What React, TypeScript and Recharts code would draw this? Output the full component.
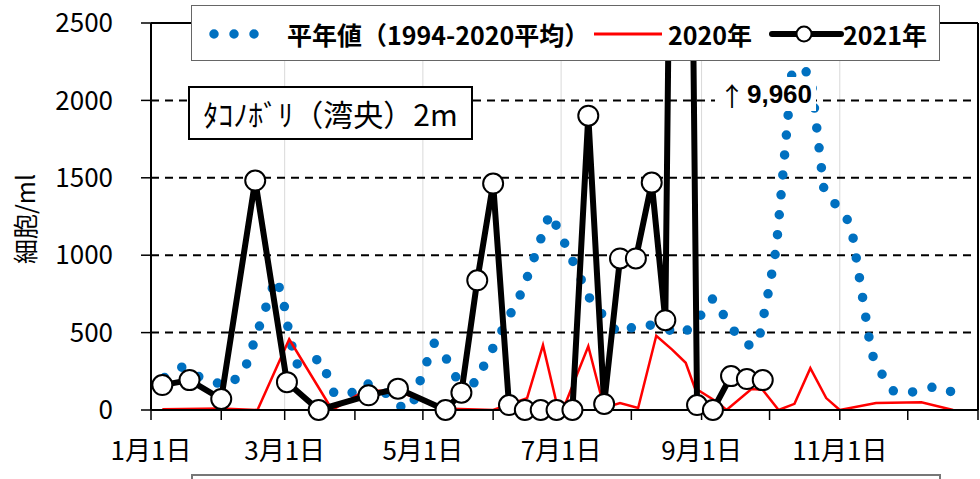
import React from 'react'
import { LineChart, Line, XAxis, YAxis, ReferenceLine, Label } from 'recharts'

const FONT = '"Noto Sans CJK JP", "Noto Sans", sans-serif'

const monthStarts = [0, 31, 59, 90, 120, 151, 181, 212, 243, 273, 304, 334]
const toDay = (md: string) => {
  const [m, d] = md.split('-').map(Number)
  return monthStarts[m - 1] + d - 1
}

const xTicks = [...monthStarts, 365]
const xTickLabels: Record<number, string> = {
  0: '1月1日', 59: '3月1日', 120: '5月1日', 181: '7月1日', 243: '9月1日', 304: '11月1日',
}
const gridDays = [59, 120, 181, 243, 304]
const yTicks = [0, 500, 1000, 1500, 2000, 2500]
const dashedY = [500, 1000, 1500, 2000]

// 平年値 (1994-2020平均)
const normalDates = [
  '01-07', '01-15', '01-25', '02-04', '02-11', '02-25', '02-28', '03-03', '03-06', '03-14',
  '03-17', '03-23', '04-02', '04-06', '04-16', '04-22', '04-26', '05-01', '05-06', '05-11',
  '05-16', '05-24', '06-02', '06-14', '06-26', '06-30', '07-14', '07-26', '08-06', '08-15',
  '08-24', '08-31', '09-06', '09-15', '09-22', '09-26', '10-01', '10-04', '10-11', '10-19',
  '10-25', '11-04', '11-06', '11-15', '11-19', '11-25', '12-03', '12-05', '12-15', '12-23',
]
const normalValues = [
  210, 280, 190, 160, 245, 850, 740, 490, 296, 322,
  330, 100, 116, 174, 97, 13, 13, 245, 431, 341,
  200, 174, 431, 773, 1269, 1160, 709, 496, 560, 528,
  490, 599, 721, 515, 419, 431, 800, 1050, 2200, 2180,
  1424, 1237, 1190, 367, 245, 116, 116, 130, 155, 97,
]

// 2020年
const y2020Dates = [
  '01-06', '02-01', '02-17', '03-03', '03-22', '04-06', '04-21', '05-10', '06-01', '06-16',
  '06-23', '06-29', '07-03', '07-13', '07-20', '07-27', '08-04', '08-12', '08-19', '08-25',
  '08-29', '09-08', '09-12', '09-23', '09-28', '10-05', '10-12', '10-19', '10-26', '11-01',
  '11-17', '12-07', '12-21',
]
const y2020Values = [
  5, 10, 0, 457, 0, 130, 115, 10, 0, 77,
  419, 45, 45, 412, 13, 45, 13, 480, 390, 305,
  142, 50, 0, 135, 130, 0, 40, 270, 77, 0,
  45, 50, 0,
]

// 2021年
const y2021Dates = [
  '01-06', '01-18', '02-01', '02-16', '03-02', '03-16', '04-07', '04-20', '05-11', '05-18',
  '05-25', '06-01', '06-08', '06-15', '06-22', '06-29', '07-06', '07-13', '07-20', '07-27',
  '08-03', '08-10', '08-16', '08-23', '08-30', '09-06', '09-14', '09-21', '09-28',
]
const y2021Values = [
  161, 193, 71, 1482, 180, 0, 95, 138, 0, 112,
  838, 1463, 32, 0, 0, 0, 0, 1901, 39, 979,
  979, 1469, 580, 9960, 32, 0, 219, 200, 193,
]

const build = (dates: string[], values: number[]) =>
  dates.map((d, i) => ({ day: toDay(d), value: values[i] }))

const normalData = build(normalDates, normalValues)
const data2020 = build(y2020Dates, y2020Values)
const data2021 = build(y2021Dates, y2021Values)

function ChartLegend() {
  return (
    <div style={{ position: 'absolute', left: 191, top: 5, width: 749, height: 56, boxSizing: 'border-box', border: '1.5px solid #666', background: '#fff' }}>
      <svg width={746} height={53} style={{ position: 'absolute', left: 0, top: 0 }}>
        <line x1={22} y1={28} x2={82} y2={28} stroke="#0070C0" strokeWidth={9.5} strokeDasharray="0 20" strokeLinecap="round" />
        <text x={95} y={28} dominantBaseline="central" fontSize={25} fontWeight={700} fontFamily={FONT}>平年値（1994-2020平均）</text>
        <line x1={402} y1={28} x2={470} y2={28} stroke="#ff0000" strokeWidth={3} />
        <text x={476} y={28} dominantBaseline="central" fontSize={25} fontWeight={700} fontFamily={FONT}>2020年</text>
        <line x1={580} y1={28} x2={649} y2={28} stroke="#000" strokeWidth={6} strokeLinecap="round" />
        <circle cx={612} cy={28} r={7.5} fill="#fff" stroke="#000" strokeWidth={2} />
        <text x={651} y={28} dominantBaseline="central" fontSize={25} fontWeight={700} fontFamily={FONT}>2021年</text>
      </svg>
    </div>
  )
}

export default function App() {
  return (
    <div style={{ position: 'absolute', left: 0, top: 0, width: 980, height: 479, overflow: 'hidden', background: '#fff', fontFamily: FONT }}>
      <LineChart width={980} height={479} margin={{ top: 23, right: 2, bottom: 9, left: 0 }}>
        <XAxis
          type="number"
          dataKey="day"
          domain={[0, 365]}
          ticks={xTicks}
          interval={0}
          tickFormatter={(v: number) => xTickLabels[v] ?? ''}
          tickSize={10}
          tickMargin={22}
          height={60}
          axisLine={{ stroke: '#000', strokeWidth: 2 }}
          tickLine={{ stroke: '#000', strokeWidth: 1.5 }}
          tick={{ fill: '#000', fontSize: 26, fontFamily: FONT }}
        />
        <YAxis
          type="number"
          domain={[0, 2500]}
          ticks={yTicks}
          allowDataOverflow
          width={151}
          tickSize={10}
          tickMargin={28}
          axisLine={{ stroke: '#000', strokeWidth: 2 }}
          tickLine={{ stroke: '#000', strokeWidth: 1.5 }}
          tick={{ fill: '#000', fontSize: 26, fontFamily: FONT }}
        >
          <Label
            content={() => (
              <text x={24} y={219} transform="rotate(-90 24 219)" textAnchor="middle" dominantBaseline="central" fontSize={25} fontFamily={FONT} fill="#000">
                細胞/ml
              </text>
            )}
          />
        </YAxis>
        {gridDays.map((d) => (
          <ReferenceLine key={'g' + d} x={d} stroke="#d9d9d9" strokeWidth={1} />
        ))}
        {dashedY.map((v) => (
          <ReferenceLine key={'h' + v} y={v} stroke="#000" strokeWidth={2} strokeDasharray="8 6" />
        ))}
        <ReferenceLine y={2500} stroke="#000" strokeWidth={2} />
        <ReferenceLine x={365} stroke="#000" strokeWidth={2} />
        <Line
          data={normalData}
          dataKey="value"
          stroke="#0070C0"
          strokeWidth={9.5}
          strokeDasharray="0 20"
          strokeLinecap="round"
          dot={false}
          activeDot={false}
          isAnimationActive={false}
        />
        <Line
          data={data2020}
          dataKey="value"
          stroke="#ff0000"
          strokeWidth={2.5}
          dot={false}
          activeDot={false}
          isAnimationActive={false}
        />
        <Line
          data={data2021}
          dataKey="value"
          stroke="#000"
          strokeWidth={6}
          dot={{ r: 10, fill: '#fff', stroke: '#000', strokeWidth: 2, clipDot: false }}
          activeDot={false}
          isAnimationActive={false}
        />
      </LineChart>
      <ChartLegend />
      <div style={{ position: 'absolute', left: 188, top: 86, width: 285, height: 54, boxSizing: 'border-box', border: '2px solid #000', background: '#fff', display: 'flex', alignItems: 'center', justifyContent: 'center', fontSize: 30, color: '#000', whiteSpace: 'nowrap', lineHeight: 1 }}>
        ﾀｺﾉﾎﾞﾘ（湾央）2m
      </div>
      <div style={{ position: 'absolute', left: 715, top: 77, width: 101, height: 34, background: '#fff', display: 'flex', alignItems: 'center', justifyContent: 'center', color: '#000', whiteSpace: 'nowrap' }}>
        <span style={{ fontFamily: FONT, fontSize: 26, marginRight: 2 }}>↑</span>
        <span style={{ fontFamily: '"Liberation Sans", "DejaVu Sans", sans-serif', fontSize: 26, fontWeight: 700 }}>9,960</span>
      </div>
      <div style={{ position: 'absolute', left: 191, top: 474, width: 750, height: 30, boxSizing: 'border-box', border: '2px solid #777', background: '#fff' }} />
    </div>
  )
}
